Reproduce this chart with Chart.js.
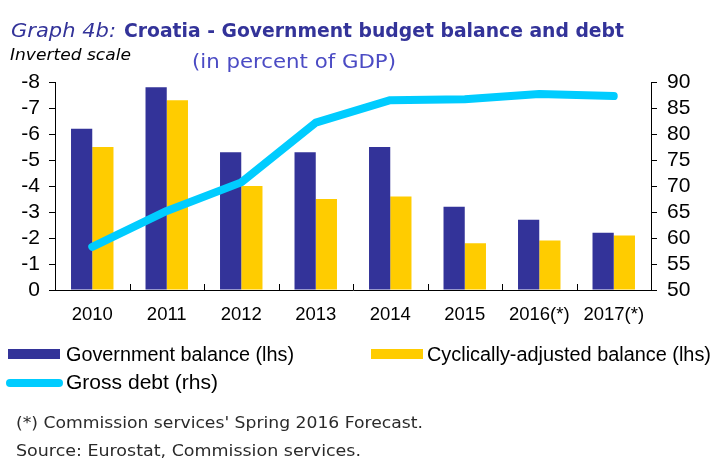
<!DOCTYPE html>
<html><head><meta charset="utf-8">
<script src="https://cdn.jsdelivr.net/npm/chart.js@4.4.0/dist/chart.umd.min.js"></script>
<style>
html,body{margin:0;padding:0;background:#fff;width:713px;height:458px;overflow:hidden}
body{position:relative}
#wrap{position:absolute;left:0;top:0;width:713px;height:458px}
.t{position:absolute;white-space:nowrap;transform-origin:0 0;line-height:1}
.sw{position:absolute}
</style></head><body>
<div id="wrap"><canvas id="c" width="713" height="458"></canvas></div>

<div class="t" data-w="105" style="left:11px;top:21px;font-family:'DejaVu Sans';font-style:italic;font-size:19px;color:#333399">Graph 4b:</div>
<div class="t" data-w="500" style="left:124px;top:21px;font-family:'DejaVu Sans';font-weight:bold;font-size:19px;color:#333399">Croatia - Government budget balance and debt</div>
<div class="t" data-w="121" style="left:10px;top:48px;font-family:'DejaVu Sans';font-style:italic;font-size:15px;color:#000">Inverted scale</div>
<div class="t" data-w="204" style="left:192px;top:52px;font-family:'DejaVu Sans';font-size:19px;color:#4b4bc4">(in percent of GDP)</div>

<div class="sw" style="left:8px;top:349px;width:52px;height:10px;background:#333399"></div>
<div class="t" data-w="228" style="left:66px;top:344px;font-family:'Liberation Sans';font-size:20px;color:#000">Government balance (lhs)</div>
<div class="sw" style="left:371px;top:349px;width:52px;height:10px;background:#FFCC00"></div>
<div class="t" data-w="284" style="left:427px;top:344px;font-family:'Liberation Sans';font-size:20px;color:#000">Cyclically-adjusted balance (lhs)</div>
<div class="sw" style="left:6px;top:379px;width:57px;height:8px;border-radius:4px;background:#00CCFF"></div>
<div class="t" data-w="152" style="left:66px;top:372px;font-family:'Liberation Sans';font-size:20px;color:#000">Gross debt (rhs)</div>

<div class="t" data-w="407" style="left:16px;top:415px;font-family:'DejaVu Sans';font-size:16px;color:#2a2a2a">(*) Commission services' Spring 2016 Forecast.</div>
<div class="t" data-w="345" style="left:16px;top:443px;font-family:'DejaVu Sans';font-size:16px;color:#2a2a2a">Source: Eurostat, Commission services.</div>

<script>
const categories = ['2010','2011','2012','2013','2014','2015','2016(*)','2017(*)'];
const governmentBalance = [-6.2, -7.8, -5.3, -5.3, -5.5, -3.2, -2.7, -2.2];
const cyclicallyAdjustedBalance = [-5.5, -7.3, -4.0, -3.5, -3.6, -1.8, -1.9, -2.1];
const grossDebt = [58.3, 65.2, 70.7, 82.2, 86.5, 86.7, 87.7, 87.3];
const leftAxis = {min: -8, max: 0, step: 1};
const rightAxis = {min: 50, max: 90, step: 5};

function fitTexts(){
  document.querySelectorAll('.t[data-w]').forEach(el=>{
    el.style.transform='none';
    const w = el.getBoundingClientRect().width;
    const target = parseFloat(el.dataset.w);
    if (w>0) el.style.transform = 'scaleX(' + (target/w) + ')';
  });
}
fitTexts();
if (document.fonts && document.fonts.ready) document.fonts.ready.then(fitTexts);

const innerTicks = {
  id: 'innerTicks',
  afterDraw(chart){
    const xs = chart.scales.x, ys = chart.scales.y;
    const ctx = chart.ctx;
    ctx.save();
    ctx.strokeStyle = '#000';
    ctx.lineWidth = 1;
    for (let i = 1; i < categories.length; i++){
      const px = Math.round((xs.getPixelForValue(i-1) + xs.getPixelForValue(i)) / 2) + 0.5;
      ctx.beginPath();
      ctx.moveTo(px, ys.bottom);
      ctx.lineTo(px, ys.bottom - 6);
      ctx.stroke();
    }
    ctx.restore();
  }
};

const tickFont = {family: "Liberation Sans", size: 21};

new Chart(document.getElementById('c'), {
  data: {
    labels: categories,
    datasets: [
      {type: 'line', label: 'Gross debt (rhs)', data: grossDebt, yAxisID: 'y1',
       borderColor: '#00CCFF', backgroundColor: '#00CCFF', borderWidth: 8,
       pointRadius: 0, tension: 0, borderCapStyle: 'round', borderJoinStyle: 'round', order: 0},
      {type: 'bar', label: 'Government balance (lhs)', data: governmentBalance, yAxisID: 'y',
       backgroundColor: '#333399', borderWidth: 0, categoryPercentage: 0.57, barPercentage: 1.0, order: 1},
      {type: 'bar', label: 'Cyclically-adjusted balance (lhs)', data: cyclicallyAdjustedBalance, yAxisID: 'y',
       backgroundColor: '#FFCC00', borderWidth: 0, categoryPercentage: 0.57, barPercentage: 1.0, order: 1}
    ]
  },
  options: {
    responsive: false,
    animation: false,
    devicePixelRatio: 1,
    layout: {padding: {top: 82, left: 0, right: 0, bottom: 0}},
    plugins: {legend: {display: false}, tooltip: {enabled: false}, title: {display: false}},
    scales: {
      x: {
        offset: true,
        grid: {display: false, drawTicks: false},
        border: {display: true, color: '#000', width: 1},
        ticks: {font: {family: "Liberation Sans", size: 18.5}, color: '#000', padding: 14, maxRotation: 0, autoSkip: false},
        afterFit(s){ s.height = 168; }
      },
      y: {
        position: 'left', reverse: true, min: leftAxis.min, max: leftAxis.max,
        ticks: {stepSize: leftAxis.step, autoSkip: false, font: tickFont, color: '#000', padding: 9},
        grid: {drawOnChartArea: false, tickLength: 6, color: '#000'},
        border: {color: '#000', width: 1},
        afterFit(s){ s.width = 55; }
      },
      y1: {
        position: 'right', min: rightAxis.min, max: rightAxis.max,
        ticks: {stepSize: rightAxis.step, autoSkip: false, font: tickFont, color: '#000', padding: 10},
        grid: {drawOnChartArea: false, tickLength: 6, color: '#000'},
        border: {color: '#000', width: 1},
        afterFit(s){ s.width = 62; }
      }
    }
  },
  plugins: [innerTicks]
});
</script>
</body></html>
